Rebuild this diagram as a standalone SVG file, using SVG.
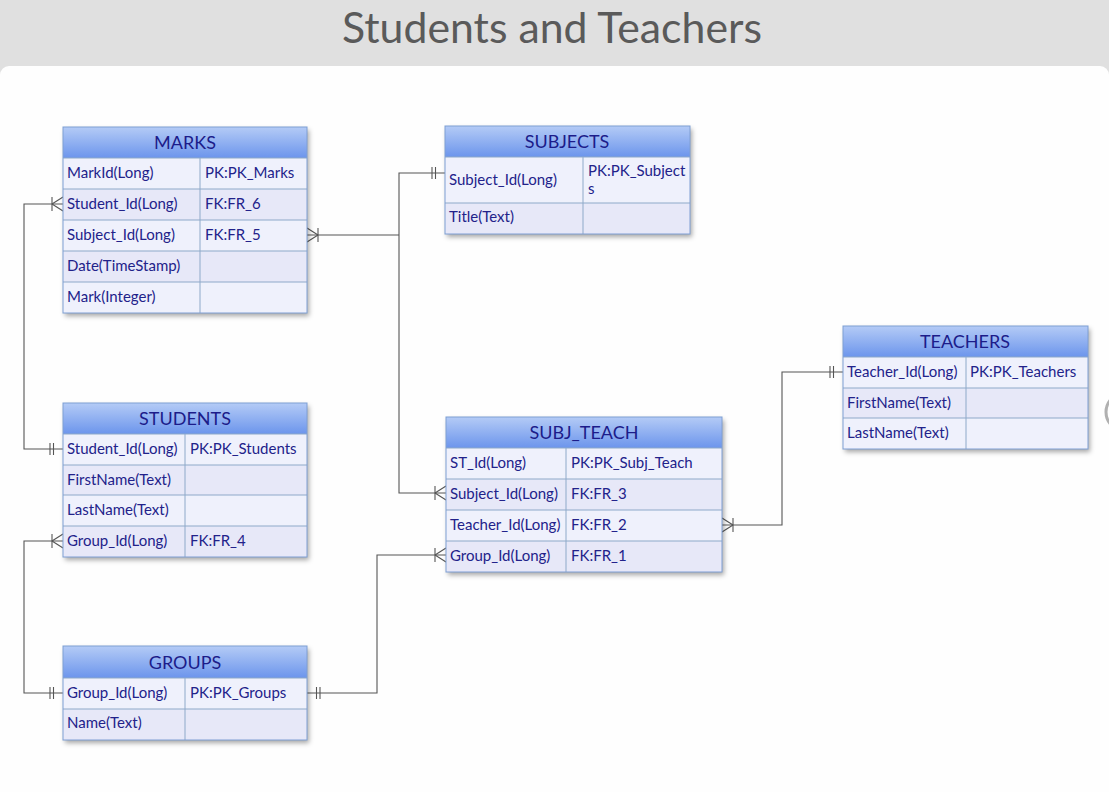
<svg xmlns="http://www.w3.org/2000/svg" xmlns:xlink="http://www.w3.org/1999/xlink" width="1109" height="792" viewBox="0 0 1109 792">
<style>
.title{font-family:Lato,"Liberation Sans",sans-serif;font-size:42px;fill:#5a5a5a;text-anchor:middle}
.hd{font-family:Lato,"Liberation Sans",sans-serif;font-size:18px;fill:#1c1c8a;text-anchor:middle}
.tx{font-family:Lato,"Liberation Sans",sans-serif;font-size:15px;fill:#22228a}
.hdr{fill:url(#hg)}
.r1{fill:#eff1fc}
.r2{fill:#e7e8f8}
.grid{stroke:#8ea9c9;stroke-width:1;fill:none}
.frame{stroke:#7e9fd4;stroke-width:1;fill:none}
.conn path{stroke:#555;stroke-width:1.1;fill:none}
</style>
<defs>
<linearGradient id="hg" x1="0" y1="0" x2="0" y2="1">
<stop offset="0" stop-color="#b4cbf6"/>
<stop offset="1" stop-color="#6c95ec"/>
</linearGradient>
<filter id="sh" x="-10%" y="-10%" width="125%" height="130%">
<feDropShadow dx="2" dy="3" stdDeviation="2.5" flood-color="#000" flood-opacity="0.35"/>
</filter>
<g id="crow" stroke="#555" stroke-width="1.1" fill="none">
<line x1="-11" y1="-7" x2="-11" y2="7"/>
<line x1="-11" y1="0" x2="0" y2="-7"/>
<line x1="-11" y1="0" x2="0" y2="7"/>
</g>
<g id="one" stroke="#555" stroke-width="1.1" fill="none">
<line x1="-13" y1="-6" x2="-13" y2="6"/>
<line x1="-9.5" y1="-6" x2="-9.5" y2="6"/>
</g>
</defs>

<rect x="0" y="0" width="1109" height="792" fill="#e0e0e0"/>
<rect x="0" y="66" width="1109" height="740" rx="9" fill="#fefefe"/>
<text class="title" x="552" y="43" textLength="420" lengthAdjust="spacingAndGlyphs">Students and Teachers</text>
<circle cx="1125" cy="412" r="19" fill="none" stroke="#b0b0b0" stroke-width="3"/>

<g class="conn" id="connectors">
<path d="M63,204 H24 V449 H63"/>
<path d="M307,235 H399"/>
<path d="M445,173 H399 V493 H446"/>
<path d="M722,525 H782 V372 H843"/>
<path d="M63,541 H24 V693 H63"/>
<path d="M307,693 H377 V555 H446"/>
<use xlink:href="#crow" transform="translate(63,204)"/>
<use xlink:href="#one" transform="translate(63,449)"/>
<use xlink:href="#crow" transform="translate(307,235) scale(-1,1)"/>
<use xlink:href="#one" transform="translate(445,173)"/>
<use xlink:href="#crow" transform="translate(446,493)"/>
<use xlink:href="#crow" transform="translate(722,525) scale(-1,1)"/>
<use xlink:href="#one" transform="translate(843,372)"/>
<use xlink:href="#crow" transform="translate(63,541)"/>
<use xlink:href="#one" transform="translate(63,693)"/>
<use xlink:href="#one" transform="translate(307,693) scale(-1,1)"/>
<use xlink:href="#crow" transform="translate(446,555)"/>
</g>

<g id="marks">
<rect x="63" y="127" width="244" height="186" fill="#eff1fc" filter="url(#sh)"/>
<rect class="hdr" x="63" y="127" width="244" height="31"/>
<rect class="r1" x="63" y="158" width="244" height="31"/>
<rect class="r2" x="63" y="189" width="244" height="31"/>
<rect class="r1" x="63" y="220" width="244" height="31"/>
<rect class="r2" x="63" y="251" width="244" height="31"/>
<rect class="r1" x="63" y="282" width="244" height="31"/>
<path class="grid" d="M63,158 H307 M63,189 H307 M63,220 H307 M63,251 H307 M63,282 H307 M200,158 V313"/>
<rect class="frame" x="63" y="127" width="244" height="186"/>
<text class="hd" x="185" y="149">MARKS</text>
<text class="tx" x="67" y="178">MarkId(Long)</text><text class="tx" x="205" y="178">PK:PK_Marks</text>
<text class="tx" x="67" y="209">Student_Id(Long)</text><text class="tx" x="205" y="209">FK:FR_6</text>
<text class="tx" x="67" y="240">Subject_Id(Long)</text><text class="tx" x="205" y="240">FK:FR_5</text>
<text class="tx" x="67" y="271">Date(TimeStamp)</text>
<text class="tx" x="67" y="302">Mark(Integer)</text>
</g>

<g id="subjects">
<rect x="445" y="126" width="245" height="108" fill="#eff1fc" filter="url(#sh)"/>
<rect class="hdr" x="445" y="126" width="245" height="31"/>
<rect class="r1" x="445" y="157" width="245" height="46"/>
<rect class="r2" x="445" y="203" width="245" height="31"/>
<path class="grid" d="M445,157 H690 M445,203 H690 M583,157 V234"/>
<rect class="frame" x="445" y="126" width="245" height="108"/>
<text class="hd" x="567" y="148">SUBJECTS</text>
<text class="tx" x="449" y="185">Subject_Id(Long)</text>
<text class="tx" x="588" y="176">PK:PK_Subject</text>
<text class="tx" x="588" y="194">s</text>
<text class="tx" x="449" y="222">Title(Text)</text>
</g>

<g id="teachers">
<rect x="843" y="326" width="245" height="123" fill="#eff1fc" filter="url(#sh)"/>
<rect class="hdr" x="843" y="326" width="245" height="31"/>
<rect class="r1" x="843" y="357" width="245" height="31"/>
<rect class="r2" x="843" y="388" width="245" height="30"/>
<rect class="r1" x="843" y="418" width="245" height="31"/>
<path class="grid" d="M843,357 H1088 M843,388 H1088 M843,418 H1088 M966,357 V449"/>
<rect class="frame" x="843" y="326" width="245" height="123"/>
<text class="hd" x="965" y="348">TEACHERS</text>
<text class="tx" x="847" y="377">Teacher_Id(Long)</text><text class="tx" x="970" y="377">PK:PK_Teachers</text>
<text class="tx" x="847" y="408">FirstName(Text)</text>
<text class="tx" x="847" y="438">LastName(Text)</text>
</g>

<g id="students">
<rect x="63" y="403" width="244" height="154" fill="#eff1fc" filter="url(#sh)"/>
<rect class="hdr" x="63" y="403" width="244" height="31"/>
<rect class="r1" x="63" y="434" width="244" height="31"/>
<rect class="r2" x="63" y="465" width="244" height="30"/>
<rect class="r1" x="63" y="495" width="244" height="31"/>
<rect class="r2" x="63" y="526" width="244" height="31"/>
<path class="grid" d="M63,434 H307 M63,465 H307 M63,495 H307 M63,526 H307 M185,434 V557"/>
<rect class="frame" x="63" y="403" width="244" height="154"/>
<text class="hd" x="185" y="425">STUDENTS</text>
<text class="tx" x="67" y="454">Student_Id(Long)</text><text class="tx" x="190" y="454">PK:PK_Students</text>
<text class="tx" x="67" y="485">FirstName(Text)</text>
<text class="tx" x="67" y="515">LastName(Text)</text>
<text class="tx" x="67" y="546">Group_Id(Long)</text><text class="tx" x="190" y="546">FK:FR_4</text>
</g>

<g id="subj_teach">
<rect x="446" y="417" width="276" height="155" fill="#eff1fc" filter="url(#sh)"/>
<rect class="hdr" x="446" y="417" width="276" height="31"/>
<rect class="r1" x="446" y="448" width="276" height="31"/>
<rect class="r2" x="446" y="479" width="276" height="31"/>
<rect class="r1" x="446" y="510" width="276" height="31"/>
<rect class="r2" x="446" y="541" width="276" height="31"/>
<path class="grid" d="M446,448 H722 M446,479 H722 M446,510 H722 M446,541 H722 M566,448 V572"/>
<rect class="frame" x="446" y="417" width="276" height="155"/>
<text class="hd" x="584" y="439">SUBJ_TEACH</text>
<text class="tx" x="450" y="468">ST_Id(Long)</text><text class="tx" x="571" y="468">PK:PK_Subj_Teach</text>
<text class="tx" x="450" y="499">Subject_Id(Long)</text><text class="tx" x="571" y="499">FK:FR_3</text>
<text class="tx" x="450" y="530">Teacher_Id(Long)</text><text class="tx" x="571" y="530">FK:FR_2</text>
<text class="tx" x="450" y="561">Group_Id(Long)</text><text class="tx" x="571" y="561">FK:FR_1</text>
</g>

<g id="groups">
<rect x="63" y="646" width="244" height="94" fill="#eff1fc" filter="url(#sh)"/>
<rect class="hdr" x="63" y="646" width="244" height="32"/>
<rect class="r1" x="63" y="678" width="244" height="31"/>
<rect class="r2" x="63" y="709" width="244" height="31"/>
<path class="grid" d="M63,678 H307 M63,709 H307 M185,678 V740"/>
<rect class="frame" x="63" y="646" width="244" height="94"/>
<text class="hd" x="185" y="669">GROUPS</text>
<text class="tx" x="67" y="698">Group_Id(Long)</text><text class="tx" x="190" y="698">PK:PK_Groups</text>
<text class="tx" x="67" y="728">Name(Text)</text>
</g>
</svg>
